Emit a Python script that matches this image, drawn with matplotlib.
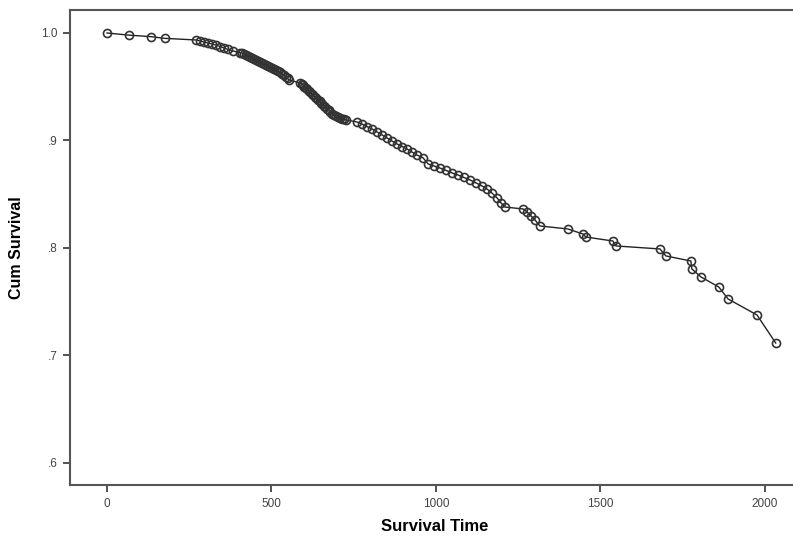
import numpy as np
import matplotlib
matplotlib.use("Agg")
import matplotlib.pyplot as plt

plt.rcParams['font.family'] = ['Liberation Sans', 'DejaVu Sans']

# survival times
t_debut = [0, 67, 134, 176]
s_debut = [1.000, 0.998, 0.9966, 0.995]

t_a = [271, 283, 295, 307, 319, 331, 344, 356, 368, 383]
s_a = [0.9935, 0.9926, 0.9916, 0.9907, 0.9898, 0.9888, 0.9874, 0.9860, 0.9847, 0.9833]

t_b = [404, 410, 416, 423, 429, 435, 441, 447, 453, 459, 465, 471, 477, 483,
       490, 496, 502, 508, 514, 520, 526, 532, 538, 544, 549, 553]
s_b = [0.9818, 0.9814, 0.9805, 0.9795, 0.9786, 0.9777, 0.9768, 0.9758, 0.9749, 0.9740,
       0.9731, 0.9721, 0.9712, 0.9702, 0.9693, 0.9684, 0.9675, 0.9665, 0.9656, 0.9647,
       0.9633, 0.9619, 0.9605, 0.9591, 0.9577, 0.9563]

t_c = [587, 592, 596, 600, 605, 609, 614, 618, 623, 627, 632, 636, 641, 646,
       651, 655, 660, 664, 669, 674, 678, 684, 690, 696, 702, 708, 714, 720, 727]
s_c = [0.9535, 0.9526, 0.9516, 0.9502, 0.9488, 0.9475, 0.9461, 0.9447, 0.9433, 0.9419,
       0.9405, 0.9391, 0.9377, 0.9363, 0.9349, 0.9335, 0.9321, 0.9307, 0.9293, 0.9279,
       0.9265, 0.9251, 0.9237, 0.9228, 0.9219, 0.9210, 0.9200, 0.9196, 0.9191]

t_d = [760, 775, 790, 806, 821, 836, 851, 866, 882, 897, 912, 927, 942, 961]
s_d = [0.9172, 0.9153, 0.9130, 0.9107, 0.9079, 0.9052, 0.9024, 0.8996, 0.8968, 0.8944, 0.8921, 0.8893, 0.8865, 0.8838]

t_e = [976, 994, 1012, 1031, 1049, 1067, 1085, 1104, 1122, 1140, 1155, 1170, 1186, 1198, 1210]
s_e = [0.8782, 0.8763, 0.8744, 0.8721, 0.8698, 0.8679, 0.8656, 0.8632, 0.8605, 0.8577, 0.8549, 0.8512, 0.8465, 0.8419, 0.8381]

t_f = [1265, 1277, 1289, 1301, 1316]
s_f = [0.8363, 0.8335, 0.8298, 0.8261, 0.8205]

t_fin = [1401, 1447, 1456, 1538, 1547, 1681, 1699, 1775, 1778, 1806, 1860, 1888, 1976, 2033]
s_fin = [0.8177, 0.8130, 0.8102, 0.8065, 0.8019, 0.7991, 0.7926, 0.7879, 0.7805, 0.7730, 0.7637, 0.7526, 0.7377, 0.7116]

temps = np.array(t_debut + t_a + t_b + t_c + t_d + t_e + t_f + t_fin)
survie = np.array(s_debut + s_a + s_b + s_c + s_d + s_e + s_f + s_fin)

xticks = [0, 500, 1000, 1500, 2000]
yticks = [0.6, 0.7, 0.8, 0.9, 1.0]
ylabels = [".6", ".7", ".8", ".9", "1.0"]

fig = plt.figure(figsize=(7.93, 5.37), dpi=100)
ax = fig.add_axes([0.0883, 0.0968, 0.9206, 0.8846])

ax.plot(temps, survie, color="#222222", linewidth=1.0, zorder=2)
ax.plot(temps, survie, "o", markersize=5.8, markerfacecolor="none",
        markeredgecolor="#333333", markeredgewidth=1.2, zorder=3)

ax.set_xlim(-112.5, 2107)
ax.set_ylim(0.5795, 1.0214)
ax.set_xticks(xticks)
ax.set_xticklabels([str(v) for v in xticks])
ax.set_yticks(yticks)
ax.set_yticklabels(ylabels)

for s in ax.spines.values():
    s.set_color("#555555")
    s.set_linewidth(1.5)
ax.tick_params(direction="out", length=5, width=1.3, color="#444444",
               labelsize=8.5, labelcolor="#444444", pad=4)

ax.set_xlabel("Survival Time", fontsize=12, fontweight="bold", labelpad=7)
ax.set_ylabel("Cum Survival", fontsize=11.5, fontweight="bold", labelpad=12)

fig.savefig("out.png", dpi=100)
